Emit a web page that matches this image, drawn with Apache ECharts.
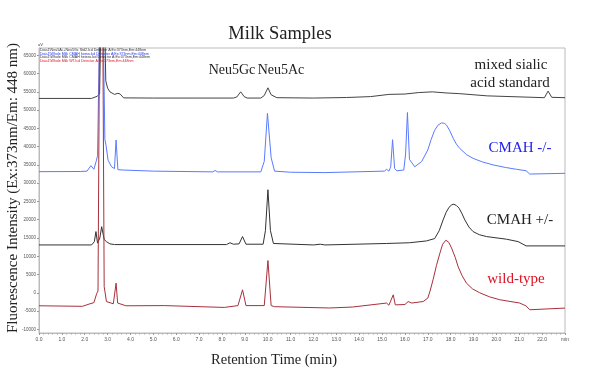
<!DOCTYPE html>
<html>
<head>
<meta charset="utf-8">
<script src="https://cdn.jsdelivr.net/npm/echarts@6/dist/echarts.min.js"></script>
<style>html,body{margin:0;padding:0;background:#fff;}#c{width:600px;height:371px;}</style>
</head>
<body>
<div id="c"></div>
<script>
// Retention time (min), intensity (uV) pairs
const standardMix = [[0,53200],[2.3,53200],[2.55,53800],[2.65,54500],[2.74,85000],[2.84,85000],[2.92,58000],[3.0,56000],[3.1,55000],[3.3,54300],[3.45,54600],[3.55,54400],[3.7,53350],[5.0,53300],[7.0,53300],[8.5,53300],[8.65,53600],[8.82,55000],[8.97,53700],[9.1,53300],[9.7,53300],[9.85,54000],[10.01,56100],[10.15,54200],[10.4,53400],[12.0,53300],[13.45,53450],[14.5,53700],[15.3,54300],[16.0,54400],[16.6,54800],[17.2,55000],[17.8,54700],[18.4,54500],[19.6,53900],[21.6,53500],[22.1,53400],[22.26,55200],[22.42,53500],[23,53400]];
const cmahKO = [[0,33150],[1.8,33200],[2.1,33300],[2.27,34800],[2.4,33800],[2.5,36000],[2.56,37500],[2.62,38000],[2.68,85000],[2.78,85000],[2.88,42000],[2.93,40400],[3.02,36300],[3.17,34500],[3.3,34000],[3.37,41800],[3.45,33700],[3.68,33600],[5.0,33300],[7.6,33100],[7.7,33500],[7.8,33100],[9.7,33100],[9.85,36000],[9.99,49100],[10.15,37000],[10.3,33300],[11.0,33000],[12.5,32900],[15.1,33300],[15.2,33800],[15.3,33300],[15.38,34500],[15.46,41900],[15.55,34000],[15.65,33400],[15.95,33600],[16.03,38000],[16.11,49350],[16.2,36500],[16.43,34500],[16.73,35900],[17.0,39100],[17.15,42000],[17.3,44500],[17.45,45900],[17.6,46500],[17.72,46400],[17.82,45900],[17.95,44500],[18.11,42300],[18.25,40700],[18.4,39500],[18.7,37800],[18.98,36800],[19.4,35800],[19.86,35000],[20.4,34300],[20.88,33800],[21.3,33400],[21.46,32500],[23,32700]];
const cmahHet = [[0,13100],[2.3,13100],[2.42,14000],[2.49,16760],[2.56,13600],[2.66,15000],[2.74,18100],[2.85,14600],[2.95,14000],[3.1,13400],[3.3,13200],[8.2,13200],[8.35,13700],[8.5,13300],[8.75,13400],[8.9,15400],[9.05,13300],[9.8,13300],[9.9,17000],[10.01,28200],[10.12,17000],[10.25,13500],[12.0,13100],[12.3,13300],[12.5,13100],[15.2,13500],[16.2,13700],[16.94,14200],[17.3,14840],[17.5,17000],[17.67,19940],[17.8,22000],[17.93,23420],[18.05,24100],[18.14,24240],[18.25,23900],[18.37,23150],[18.5,21600],[18.62,19940],[18.8,18000],[18.98,16760],[19.25,15900],[19.57,15390],[20.44,14670],[20.95,14020],[21.3,12840],[23,12840]];
const wildType = [[0,-3550],[1.9,-3700],[2.23,-3000],[2.4,-2700],[2.52,-270],[2.58,500],[2.66,85000],[2.78,85000],[2.85,1700],[2.95,-2400],[3.25,-3000],[3.37,2640],[3.44,-2800],[3.8,-3550],[5.5,-3500],[8.1,-4000],[8.7,-3500],[8.9,820],[9.05,-3500],[9.1,-3900],[9.85,-3500],[10.01,8830],[10.15,-3500],[10.3,-3800],[12.7,-4150],[13.7,-3900],[15.2,-2800],[15.3,-3400],[15.49,-550],[15.58,-3300],[16.0,-3200],[16.14,-2400],[16.3,-2800],[16.8,-2380],[17.0,-1450],[17.1,500],[17.23,3550],[17.38,7500],[17.53,10840],[17.65,13300],[17.79,14400],[17.92,13800],[18.04,12250],[18.2,9700],[18.33,7100],[18.5,4700],[18.69,2650],[18.95,1100],[19.27,0],[19.7,-1100],[20.15,-1900],[21.02,-2800],[21.3,-3600],[21.46,-4640],[23,-4180]];

const yTickValues = [-10000,-5000,0,5000,10000,15000,20000,25000,30000,35000,40000,45000,50000,55000,60000,65000];
const legendLines = ['Data1\\Neu5Ac+Neu5Gc Std2.lcd Detector A:Ex:373nm,Em:448nm','Data1\\Whole Milk CMAH homo.lcd Detector A:Ex:373nm,Em:448nm','Data1\\Whole Milk CMAH hetero.lcd Detector A:Ex:373nm,Em:448nm','Data1\\Whole Milk WT.lcd Detector A:Ex:373nm,Em:448nm'];
const legendColors = ['#333333','#2233ee','#333333','#dd1122'];
const seriesColors = ['#444444','#5a7aff','#333333','#a8303c'];

const chart = echarts.init(document.getElementById('c'), null, {renderer:'canvas'});
const serif = '"Liberation Serif", "DejaVu Serif", serif';
const mk = (d, c) => ({type:'line', data:d, showSymbol:false, symbol:'none', lineStyle:{width:1, color:c}, itemStyle:{color:c}, clip:true, animation:false});

const graphics = [
  {type:'text', style:{text:'Milk Samples', x:280, y:34, textAlign:'center', textVerticalAlign:'middle', font:'18.5px ' + serif, fill:'#222'}},
  {type:'text', style:{text:'Fluorescence Intensity (Ex:373nm/Em: 448 nm)', x:0, y:0, textAlign:'center', textVerticalAlign:'middle', font:'15px ' + serif, fill:'#222'}, x:13, y:188, rotation:Math.PI/2},
  {type:'text', style:{text:'Retention Time (min)', x:274, y:360, textAlign:'center', textVerticalAlign:'middle', font:'14.5px ' + serif, fill:'#222'}},
  {type:'text', style:{text:'uV', x:38, y:45, textAlign:'left', textVerticalAlign:'middle', font:'4px sans-serif', fill:'#333'}},
  {type:'text', style:{text:'Neu5Gc', x:232, y:70, textAlign:'center', textVerticalAlign:'middle', font:'14px ' + serif, fill:'#222'}},
  {type:'text', style:{text:'Neu5Ac', x:281, y:70, textAlign:'center', textVerticalAlign:'middle', font:'14px ' + serif, fill:'#222'}},
  {type:'text', style:{text:'mixed sialic', x:511, y:65, textAlign:'center', textVerticalAlign:'middle', font:'15px ' + serif, fill:'#222'}},
  {type:'text', style:{text:'acid standard', x:510, y:83, textAlign:'center', textVerticalAlign:'middle', font:'15px ' + serif, fill:'#222'}},
  {type:'text', style:{text:'CMAH -/-', x:520, y:148, textAlign:'center', textVerticalAlign:'middle', font:'15px ' + serif, fill:'#2222ee'}},
  {type:'text', style:{text:'CMAH +/-', x:520, y:220, textAlign:'center', textVerticalAlign:'middle', font:'15px ' + serif, fill:'#222'}},
  {type:'text', style:{text:'wild-type', x:516, y:279, textAlign:'center', textVerticalAlign:'middle', font:'15px ' + serif, fill:'#dd1122'}}
];
legendLines.forEach((t,i) => graphics.push({type:'text', z:10, style:{text:t, x:40, y:50 + i*3.6, textAlign:'left', textVerticalAlign:'middle', font:'3.6px "Liberation Sans", sans-serif', fill:legendColors[i]}}));

chart.setOption({
  animation:false,
  backgroundColor:'#fff',
  grid:{left:39, right:35, top:48, bottom:38, show:true, borderColor:'#bbb', borderWidth:1},
  xAxis:{type:'value', min:0, max:23, interval:1,
    axisLine:{show:true, onZero:false, lineStyle:{color:'#bbb'}},
    axisTick:{show:true, length:2, inside:false, lineStyle:{color:'#999'}},
    minorTick:{show:true, splitNumber:5, length:1.5, lineStyle:{color:'#aaa'}},
    splitLine:{show:false},
    axisLabel:{fontSize:5, color:'#555', margin:4, formatter:v => v === 23 ? 'min' : v.toFixed(1)}},
  yAxis:[{type:'value', min:-11000, max:67000,
    axisLine:{show:true, lineStyle:{color:'#bbb'}},
    axisTick:{show:true, length:2, customValues:yTickValues, lineStyle:{color:'#999'}},
    splitLine:{show:false},
    axisLabel:{fontSize:4.5, color:'#555', margin:3, customValues:yTickValues, formatter:v => String(v)}}],
  series:[mk(standardMix, seriesColors[0]), mk(cmahKO, seriesColors[1]), mk(cmahHet, seriesColors[2]), mk(wildType, seriesColors[3])],
  graphic:graphics
});
</script>
</body>
</html>
